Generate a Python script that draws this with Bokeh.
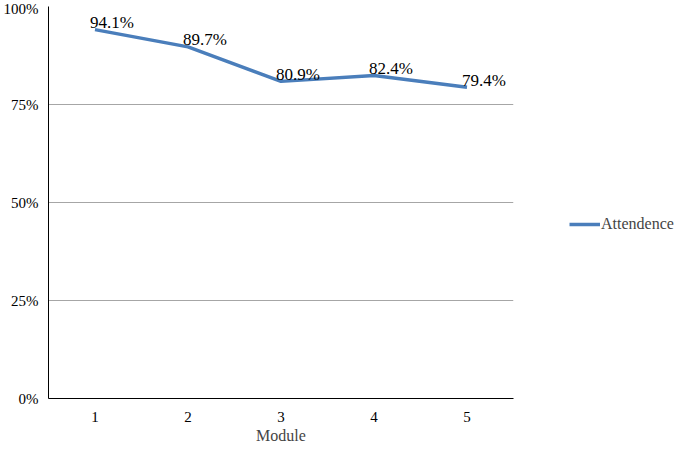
from bokeh.plotting import figure
from bokeh.layouts import row
from bokeh.models import Range1d, FixedTicker, NumeralTickFormatter, Legend, LegendItem, ColumnDataSource
from bokeh.core.properties import value
from bokeh.embed import file_html
from bokeh.resources import INLINE

modules = [1, 2, 3, 4, 5]
attendance = [0.941, 0.897, 0.809, 0.824, 0.794]
labels = ["94.1%", "89.7%", "80.9%", "82.4%", "79.4%"]
series_name = "Attendence"
y_ticks = [0, 0.25, 0.5, 0.75, 1.0]

FONT = "Liberation Serif"
BLUE = "#4a7ebb"

src = ColumnDataSource(dict(x=modules, y=attendance, t=labels))

p = figure(width=557, height=438, output_backend="svg", toolbar_location=None,
           x_range=Range1d(0.5, 5.5), y_range=Range1d(0, 1),
           min_border_left=42, min_border_top=6, min_border_bottom=40, min_border_right=50)
p.frame_width = 465
p.frame_height = 392
p.outline_line_color = None
p.background_fill_color = "white"

line = p.line("x", "y", source=src, line_color=BLUE, line_width=3.5)
p.text("x", "y", text="t", source=src, text_font=value(FONT), text_font_size="17px",
       text_align="center", text_baseline="alphabetic", x_offset=17, y_offset=-7, text_color="black")

p.xaxis.ticker = FixedTicker(ticks=modules)
p.yaxis.ticker = FixedTicker(ticks=y_ticks)
p.yaxis.formatter = NumeralTickFormatter(format="0%")
for ax in (p.xaxis, p.yaxis):
    ax.major_tick_line_color = None
    ax.minor_tick_line_color = None
    ax.major_tick_in = 0
    ax.major_tick_out = 0
    ax.axis_line_color = "black"
    ax.axis_line_width = 1
    ax.major_label_text_font = FONT
    ax.major_label_text_font_size = "15px"
    ax.major_label_text_color = "black"
p.yaxis.major_label_standoff = 10
p.xaxis.major_label_standoff = 13
p.xaxis.axis_label = "Module"
p.xaxis.axis_label_text_font = FONT
p.xaxis.axis_label_text_font_size = "16px"
p.xaxis.axis_label_text_font_style = "normal"
p.xaxis.axis_label_standoff = 2

p.xgrid.grid_line_color = None
p.ygrid.grid_line_color = "#a6a6a6"
p.ygrid.grid_line_width = 1

# Legend panel
lg = figure(width=112, height=438, output_backend="svg", toolbar_location=None,
            x_range=Range1d(0, 1), y_range=Range1d(0, 1),
            min_border=0, min_border_left=0, min_border_right=0, min_border_top=0, min_border_bottom=0)
lg.axis.visible = False
lg.grid.visible = False
lg.outline_line_color = None
nan = float("nan")
dummy = lg.line(x=[nan], y=[nan], line_color=BLUE, line_width=3.5)
legend = Legend(items=[LegendItem(label=series_name, renderers=[dummy])],
                location=(6, 156), orientation="vertical")
legend.label_text_font = FONT
legend.label_text_font_size = "16px"
legend.glyph_width = 31
legend.label_standoff = 1
legend.border_line_color = None
legend.background_fill_alpha = 0
legend.padding = 0
legend.margin = 0
legend.spacing = 0
lg.add_layout(legend, "center")

layout = row(p, lg, spacing=0)
open("out.html", "w").write(file_html(layout, INLINE))
